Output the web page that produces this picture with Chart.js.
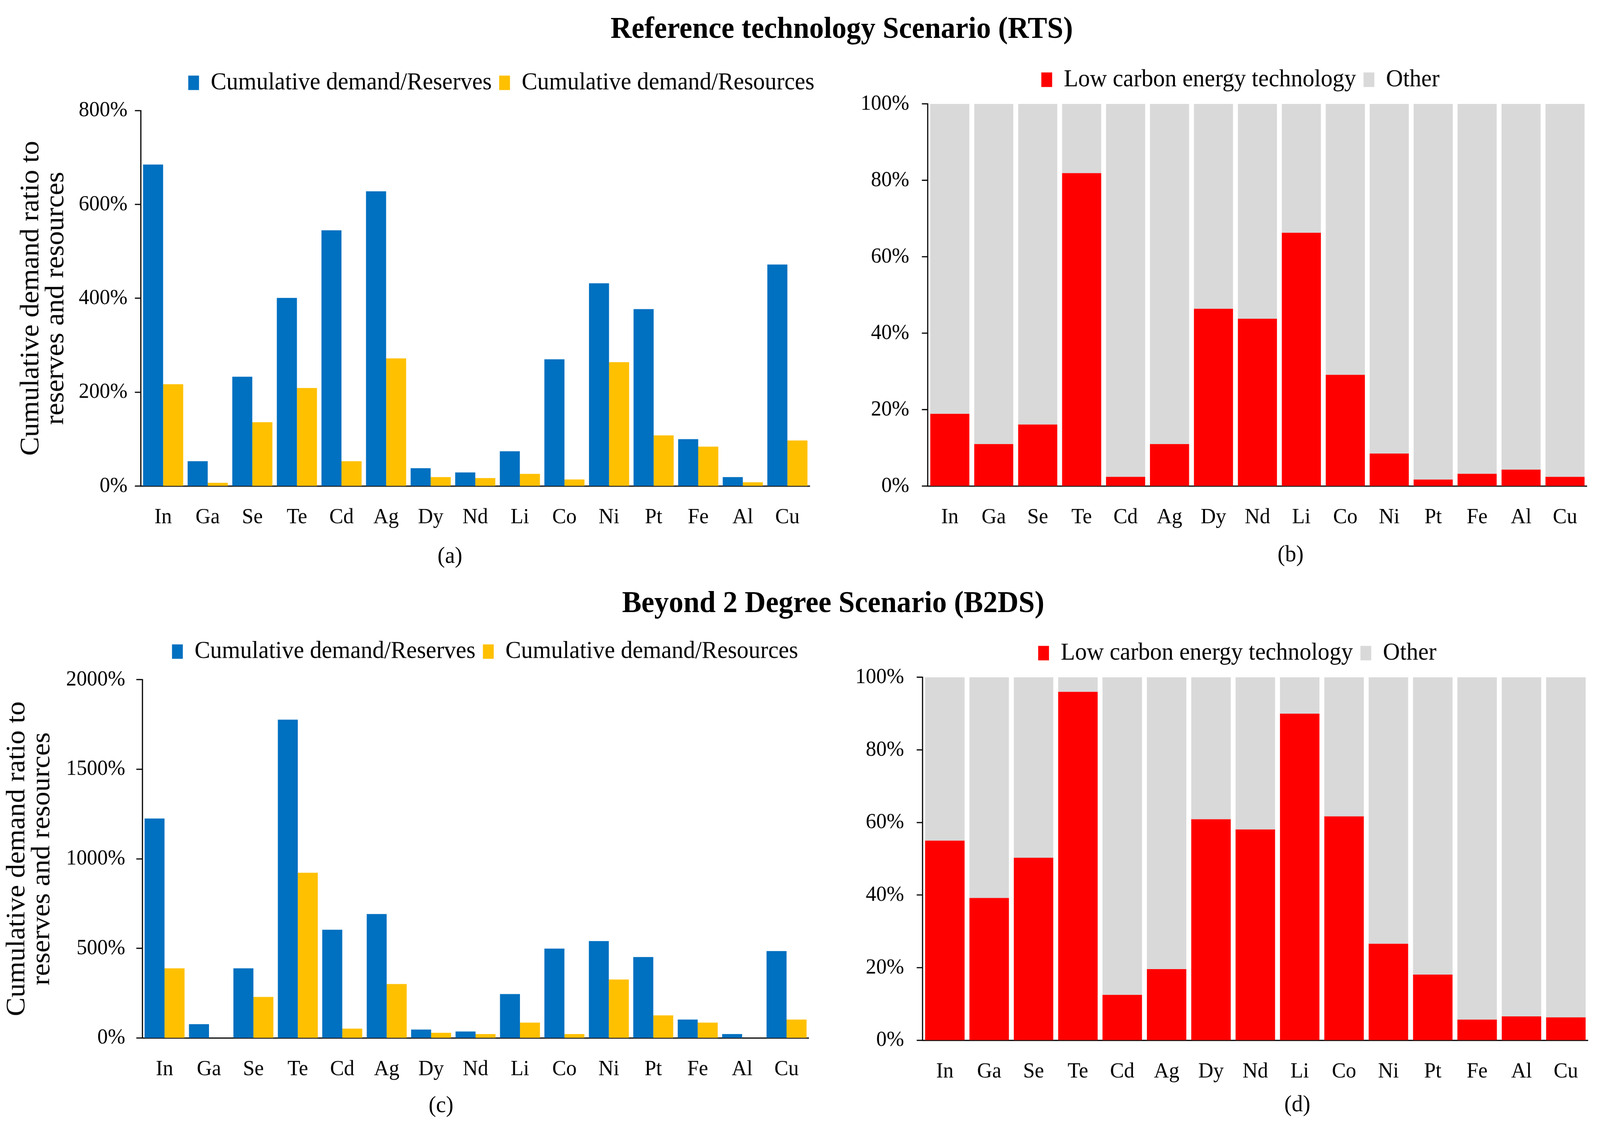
<!DOCTYPE html>
<html><head><meta charset="utf-8">
<script src="https://cdn.jsdelivr.net/npm/chart.js@4.4.1/dist/chart.umd.min.js"></script>
<style>
html,body{margin:0;padding:0;background:#fff;overflow:hidden;width:100%;height:100%}
#wrap{position:fixed;left:0;top:0;width:100vw;height:100vh;overflow:hidden;background:#fff}
#fig{position:absolute;left:0;top:0;width:4296px;height:2898px;transform:scaleX(1.15);transform-origin:0 0;font-family:"Liberation Serif","Times New Roman",serif;color:#000}
.t{position:absolute;width:2400px;text-align:center;font-weight:bold;font-size:78px;line-height:78px;white-space:nowrap}
.s{position:absolute;width:400px;text-align:center;font-size:60px;line-height:60px}
canvas{position:absolute}
</style></head><body>
<div id="wrap">
<div id="fig">
<canvas id="ca" width="2185" height="1356" style="left:0px;top:0px;width:2185px;height:1356px"></canvas>
<canvas id="cb" width="2023" height="1356" style="left:2250px;top:0px;width:2023px;height:1356px"></canvas>
<canvas id="cc" width="2183" height="1322" style="left:0px;top:1447px;width:2183px;height:1322px"></canvas>
<canvas id="cd" width="2025" height="1328" style="left:2250px;top:1447px;width:2025px;height:1328px"></canvas>
<div class="t" style="left:1060px;top:32px">Reference technology Scenario (RTS)</div>
<div class="t" style="left:1037px;top:1502px">Beyond 2 Degree Scenario (B2DS)</div>
<div class="s" style="left:1008px;top:1391px">(a)</div>
<div class="s" style="left:3265px;top:1387px">(b)</div>
<div class="s" style="left:984px;top:2797px">(c)</div>
<div class="s" style="left:3283px;top:2795px">(d)</div>
</div>
</div>
<script>
const categories = ['In','Ga','Se','Te','Cd','Ag','Dy','Nd','Li','Co','Ni','Pt','Fe','Al','Cu'];

// RTS: cumulative demand ratio (%)
const rtsReserves  = [685, 53, 233, 401, 545, 628, 38, 29, 74, 270, 432, 377, 100, 19, 472];
const rtsResources = [217, 7, 136, 209, 53, 272, 19, 17, 26, 14, 264, 108, 84, 8, 97];
// RTS: share of demand (%)
const rtsLowCarbon = [18.9, 11.0, 16.1, 81.9, 2.4, 11.0, 46.4, 43.8, 66.3, 29.1, 8.5, 1.7, 3.2, 4.3, 2.4];
const rtsOther     = [81.1, 89.0, 83.9, 18.1, 97.6, 89.0, 53.6, 56.2, 33.7, 70.9, 91.5, 98.3, 96.8, 95.7, 97.6];

// B2DS: cumulative demand ratio (%)
const b2dsReserves  = [1225, 77, 389, 1777, 604, 692, 47, 36, 245, 499, 541, 452, 103, 22, 485];
const b2dsResources = [389, 1, 229, 922, 52, 301, 29, 22, 86, 22, 326, 126, 86, 1, 103];
// B2DS: share of demand (%)
const b2dsLowCarbon = [55.0, 39.2, 50.3, 96.0, 12.5, 19.6, 60.9, 58.1, 90.0, 61.7, 26.6, 18.1, 5.7, 6.6, 6.3];
const b2dsOther     = [45.0, 60.8, 49.7, 4.0, 87.5, 80.4, 39.1, 41.9, 10.0, 38.3, 73.4, 81.9, 94.3, 93.4, 93.7];

const yTitle = ['Cumulative demand ratio to', 'reserves and resources'];

// fit the 4940x2898 design into the actual viewport
const vw = window.innerWidth || 4940, vh = window.innerHeight || 2898;
const sx = vw / 4940, sy = vh / 2898;
document.getElementById('fig').style.transform = 'scale(' + (1.15 * sx) + ',' + sy + ')';
const DPR = (window.devicePixelRatio || 1) * Math.max(sx, sy) * 1.15;

const FONT = 'Liberation Serif';
Chart.defaults.font.family = FONT;
Chart.defaults.color = '#000';

const legendCenter = {
  id: 'legendCenter',
  afterLayout(chart, args, opts) {
    const lg = chart.legend;
    if (!lg || opts.x == null) return;
    const half = (lg.right - lg.left) / 2;
    lg.left = opts.x - half;
    lg.right = opts.x + half;
  }
};

function pct(v) { return v + '%'; }

function makeChart(id, datasets, o) {
  const yScale = {
    stacked: o.stacked,
    min: 0, max: o.max,
    ticks: {stepSize: o.step, callback: pct, font: {family: FONT, size: 56, lineHeight: 1.2}, color: '#000', padding: o.tickPad},
    grid: {display: true, drawOnChartArea: false, drawTicks: true, tickLength: 16, tickWidth: 3, tickColor: '#000', color: '#000'},
    border: {display: true, color: '#000', width: 3},
    afterFit: s => { s.width = o.axisW; }
  };
  if (o.titlePad != null) {
    yScale.title = {display: true, text: yTitle, color: '#000', font: {family: FONT, size: 72, lineHeight: 0.93}, padding: {top: o.titlePad, bottom: 0}};
  }
  return new Chart(document.getElementById(id), {
    type: 'bar',
    data: {labels: categories, datasets: datasets},
    options: {
      responsive: false, animation: false, devicePixelRatio: DPR,
      layout: {padding: {top: o.padTop, left: 0, right: 0, bottom: 0}},
      plugins: {
        legend: {position: 'top', labels: {font: {family: FONT, size: 63}, color: '#000', boxWidth: 29, boxHeight: 37, padding: 20}},
        subtitle: {display: true, text: '', position: 'top', weight: 500, padding: 0, font: {size: o.gap, lineHeight: 1}},
        tooltip: {enabled: false},
        legendCenter: {x: o.legendX}
      },
      scales: {
        x: {
          stacked: o.stacked,
          grid: {display: false},
          border: {display: true, color: '#000', width: 3},
          ticks: {font: {family: FONT, size: 56, lineHeight: 1.2}, color: '#000', padding: 39, maxRotation: 0, autoSkip: false},
          afterFit: s => { s.height = 112; }
        },
        y: yScale
      }
    },
    plugins: [legendCenter]
  });
}

function groupedSets(reserves, resources) {
  return [
    {label: 'Cumulative demand/Reserves', data: reserves, backgroundColor: '#0070C0', categoryPercentage: 0.9, barPercentage: 1},
    {label: 'Cumulative demand/Resources', data: resources, backgroundColor: '#FFC000', categoryPercentage: 0.9, barPercentage: 1}
  ];
}
function shareSets(low, other) {
  return [
    {label: 'Low carbon energy technology', data: low, backgroundColor: '#FF0000', categoryPercentage: 1, barPercentage: 0.89},
    {label: 'Other', data: other, backgroundColor: '#D9D9D9', categoryPercentage: 1, barPercentage: 0.89}
  ];
}

makeChart('ca', groupedSets(rtsReserves, rtsResources),
  {stacked: false, max: 800, step: 200, tickPad: 20, axisW: 378, titlePad: 50, padTop: 160.5, gap: 29.5, legendX: 1345.5});
makeChart('cb', shareSets(rtsLowCarbon, rtsOther),
  {stacked: true, max: 100, step: 20, tickPad: 34, axisW: 241, padTop: 152.5, gap: 20.5, legendX: 1080});
makeChart('cc', groupedSets(b2dsReserves, b2dsResources),
  {stacked: false, max: 2000, step: 500, tickPad: 30, axisW: 382, titlePad: 13, padTop: 169.5, gap: 30.5, legendX: 1302});
makeChart('cd', shareSets(b2dsLowCarbon, b2dsOther),
  {stacked: true, max: 100, step: 20, tickPad: 34, axisW: 227, padTop: 173.5, gap: 20.5, legendX: 1071.5});
</script>
</body></html>
